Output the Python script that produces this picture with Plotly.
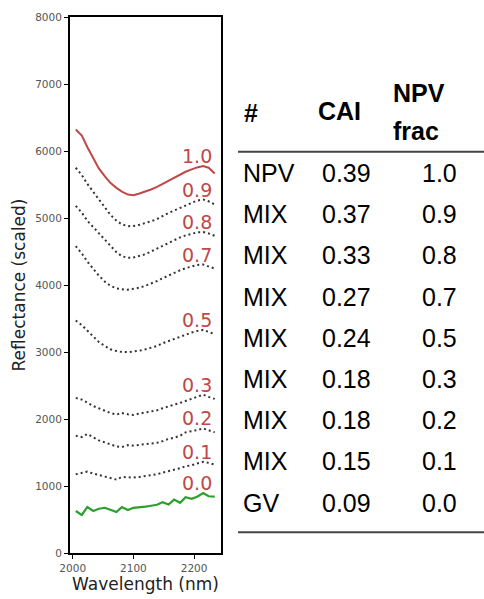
import plotly.graph_objects as go

# Spectral band centres (nm) in the SWIR-2 window
wavelength_nm = [2005, 2015, 2024, 2034, 2043, 2053, 2062, 2072, 2081, 2091,
                 2100, 2110, 2120, 2129, 2139, 2148, 2158, 2167, 2177, 2186,
                 2196, 2205, 2215, 2224, 2234]

# Scaled reflectance of each spectrum, keyed by NPV fraction
refl_npv_10 = [6320, 6230, 6060, 5880, 5740, 5620, 5525, 5450, 5395, 5350,
               5340, 5365, 5395, 5425, 5465, 5510, 5560, 5600, 5650, 5690,
               5725, 5755, 5775, 5750, 5665]
refl_npv_09 = [5750, 5640, 5510, 5390, 5280, 5160, 5050, 4960, 4905, 4878,
               4880, 4900, 4925, 4950, 4985, 5030, 5075, 5110, 5150, 5190,
               5225, 5260, 5275, 5250, 5200]
refl_npv_08 = [5180, 5080, 4960, 4860, 4780, 4680, 4580, 4490, 4430, 4405,
               4410, 4430, 4460, 4500, 4545, 4590, 4635, 4670, 4710, 4740,
               4765, 4785, 4790, 4770, 4735]
refl_npv_07 = [4580, 4470, 4350, 4240, 4140, 4050, 3990, 3950, 3935, 3930,
               3940, 3960, 3990, 4020, 4060, 4100, 4145, 4180, 4220, 4250,
               4280, 4300, 4305, 4280, 4245]
refl_npv_05 = [3470, 3400, 3320, 3230, 3150, 3090, 3040, 3015, 3000, 2998,
               3005, 3020, 3040, 3060, 3090, 3130, 3165, 3200, 3235, 3265,
               3290, 3315, 3330, 3300, 3265]
refl_npv_03 = [2315, 2290, 2245, 2192, 2160, 2120, 2090, 2065, 2090, 2070,
               2060, 2080, 2095, 2105, 2130, 2160, 2195, 2215, 2240, 2270,
               2300, 2330, 2363, 2330, 2300]
refl_npv_02 = [1751, 1730, 1776, 1720, 1680, 1650, 1620, 1590, 1581, 1610,
               1604, 1612, 1620, 1629, 1645, 1670, 1703, 1720, 1750, 1801,
               1815, 1835, 1860, 1830, 1801]
refl_npv_01 = [1174, 1200, 1214, 1185, 1160, 1140, 1120, 1095, 1135, 1128,
               1126, 1135, 1145, 1155, 1175, 1200, 1220, 1235, 1265, 1295,
               1310, 1335, 1361, 1345, 1320]
refl_npv_00 = [627, 568, 686, 627, 660, 675, 645, 612, 686, 642,
               675, 680, 692, 705, 720, 759, 724, 797, 749, 832,
               810, 840, 895, 847, 840]

npv_fraction_labels = ["1.0", "0.9", "0.8", "0.7", "0.5", "0.3", "0.2", "0.1", "0.0"]

# Summary table
table_class = ["NPV", "MIX", "MIX", "MIX", "MIX", "MIX", "MIX", "MIX", "GV"]
table_cai = ["0.39", "0.37", "0.33", "0.27", "0.24", "0.18", "0.18", "0.15", "0.09"]
table_npv_frac = ["1.0", "0.9", "0.8", "0.7", "0.5", "0.3", "0.2", "0.1", "0.0"]

spectra = [refl_npv_10, refl_npv_09, refl_npv_08, refl_npv_07, refl_npv_05,
           refl_npv_03, refl_npv_02, refl_npv_01, refl_npv_00]

RED = "#c04848"
GREEN = "#2ca02c"
DOT = "#333333"

W, H = 484, 599
ML, MR, MT, MB = 70, 263, 11, 43
PW, PH = W - ML - MR, H - MT - MB


def px_x(x):
    return (x - ML) / PW


def px_y(y):
    return (H - MB - y) / PH


fig = go.Figure()

for frac, refl in zip(npv_fraction_labels, spectra):
    if frac == "1.0":
        line = dict(color=RED, width=2)
    elif frac == "0.0":
        line = dict(color=GREEN, width=2.2)
    else:
        line = dict(color=DOT, width=2, dash="2px,3px")
    fig.add_trace(go.Scatter(x=wavelength_nm, y=refl, mode="lines",
                             line=line, showlegend=False, hoverinfo="skip"))
    # fraction label sits just above the long-wavelength shoulder of the curve
    fig.add_annotation(x=2176, y=max(refl[-6:]), xref="x", yref="y", text=frac,
                       showarrow=False, xanchor="left", yanchor="middle",
                       yshift=10,
                       font=dict(family="DejaVu Sans", size=19, color=RED))

axis_common = dict(showline=True, linecolor="black", linewidth=2, mirror=True,
                   ticks="outside", ticklen=4, tickwidth=1, tickcolor="black",
                   showgrid=False, zeroline=False,
                   tickfont=dict(family="DejaVu Sans", size=10.5, color="#555555"))

fig.update_xaxes(range=[1995.5, 2244.4], tickvals=[2000, 2100, 2200],
                 title=dict(text="Wavelength (nm)", standoff=3,
                            font=dict(family="DejaVu Sans", size=17, color="#222222")),
                 **axis_common)
fig.update_yaxes(range=[0, 8000], dtick=1000,
                 title=dict(text="Reflectance (scaled)", standoff=5,
                            font=dict(family="DejaVu Sans", size=17, color="#222222")),
                 **axis_common)

# Table header
head_font = dict(family="Liberation Sans", size=25, color="black")
header_cells = [("<b>#</b>", 242, 109), ("<b>CAI</b>", 316, 107),
                ("<b>NPV</b>", 391, 88), ("<b>frac</b>", 391, 127)]
for txt, x, y in header_cells:
    fig.add_annotation(x=px_x(x), y=px_y(y), xref="paper", yref="paper", text=txt,
                       showarrow=False, xanchor="left", yanchor="middle",
                       font=head_font)

# Table body
body_font = dict(family="Liberation Sans", size=25, color="black")
row_top, row_step = 169.5, 41.9
for i, (cls, cai, frac) in enumerate(zip(table_class, table_cai, table_npv_frac)):
    y = px_y(row_top + i * row_step)
    fig.add_annotation(x=px_x(241), y=y, xref="paper", yref="paper", text=cls,
                       showarrow=False, xanchor="left", yanchor="middle", font=body_font)
    fig.add_annotation(x=px_x(320), y=y, xref="paper", yref="paper", text=cai,
                       showarrow=False, xanchor="left", yanchor="middle", font=body_font)
    fig.add_annotation(x=px_x(439.5), y=y, xref="paper", yref="paper", text=frac,
                       showarrow=False, xanchor="center", yanchor="middle", font=body_font)

# Table rules
for y in (148, 535):
    fig.add_shape(type="line", xref="paper", yref="paper",
                  x0=px_x(238), x1=px_x(484), y0=px_y(y), y1=px_y(y),
                  line=dict(color="#444444", width=2))

fig.update_layout(width=W, height=H, margin=dict(l=ML, r=MR, t=MT, b=MB),
                  paper_bgcolor="white", plot_bgcolor="white")

fig.write_html("out.html")
